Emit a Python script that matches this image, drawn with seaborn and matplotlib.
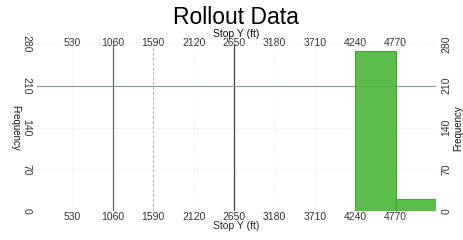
import numpy as np
import matplotlib
matplotlib.use("Agg")
import matplotlib.pyplot as plt
import seaborn as sns

# histogram of rollout stop positions
bin_edges = [4240, 4770, 5300]
counts = [268, 20]
x_ticks = [530, 1060, 1590, 2120, 2650, 3180, 3710, 4240, 4770]
y_ticks = [0, 70, 140, 210, 280]

sns.set_style("white")
plt.rcParams["font.family"] = ["Liberation Sans", "DejaVu Sans"]
plt.rcParams["text.color"] = "#111111"

fig = plt.figure(figsize=(4.63, 2.4), dpi=100)
ax = fig.add_axes([37 / 463, 1 - 211 / 240, (436 - 37) / 463, (211 - 44) / 240])

centers = [(a + b) / 2 for a, b in zip(bin_edges[:-1], bin_edges[1:])]
sns.histplot(x=centers, weights=counts, bins=bin_edges, ax=ax,
             color="#52ba42", edgecolor="#43a536", linewidth=0.8, alpha=0.95)

ax.set_xlim(65, 5300)
ax.set_ylim(0, 280)

# faint grid plus the darker lines seen in the original
ax.grid(True, color="#e2e2e2", linestyle=":", linewidth=0.6)
ax.set_axisbelow(True)
ax.axvline(x_ticks[1], color="#666666", linewidth=0.9, zorder=0.8)
ax.axvline(x_ticks[4], color="#444444", linewidth=0.9, zorder=0.8)
ax.axvline(x_ticks[2], color="#b0b0b0", linewidth=0.7, linestyle=(0, (3, 2)), zorder=0.8)
ax.axhline(y_ticks[3], color="#7aa0a0", linewidth=0.8, zorder=0.8)

for s in ax.spines.values():
    s.set_visible(False)

ax.set_xticks(x_ticks)
ax.set_xticklabels([str(v) for v in x_ticks])
ax.set_yticks(y_ticks)
ax.set_yticklabels([str(v) for v in y_ticks])
ax.tick_params(axis="both", length=0, labelsize=7.5, labelcolor="#333333")
ax.tick_params(axis="x", pad=1, top=True, labeltop=True,
               bottom=True, labelbottom=True)
ax.tick_params(axis="y", pad=4, left=True, labelleft=True,
               right=True, labelright=True)
# left labels read downward, right labels read upward
for t in ax.yaxis.get_major_ticks():
    t.label1.set_rotation(-90)
    t.label1.set_va("center")
    t.label2.set_rotation(90)
    t.label2.set_va("center")
for t in ax.xaxis.get_major_ticks():
    t.label2.set_va("center")

ax.set_xlabel("Stop Y (ft)", fontsize=7.5, labelpad=-1)
ax.set_ylabel("")
fig.text(15 / 463, 1 - 128 / 240, "Frequency", rotation=-90, ha="center",
         va="center", fontsize=7)
fig.text(458 / 463, 1 - 128 / 240, "Frequency", rotation=90, ha="center",
         va="center", fontsize=7)
fig.text(236 / 463, 1 - 34 / 240, "Stop Y (ft)", ha="center", va="center",
         fontsize=7.5)
fig.text(236 / 463, 1 - 17 / 240, "Rollout Data", ha="center", va="center",
         fontsize=16.5, color="black")

fig.savefig("out.png", dpi=100)
plt.close(fig)
